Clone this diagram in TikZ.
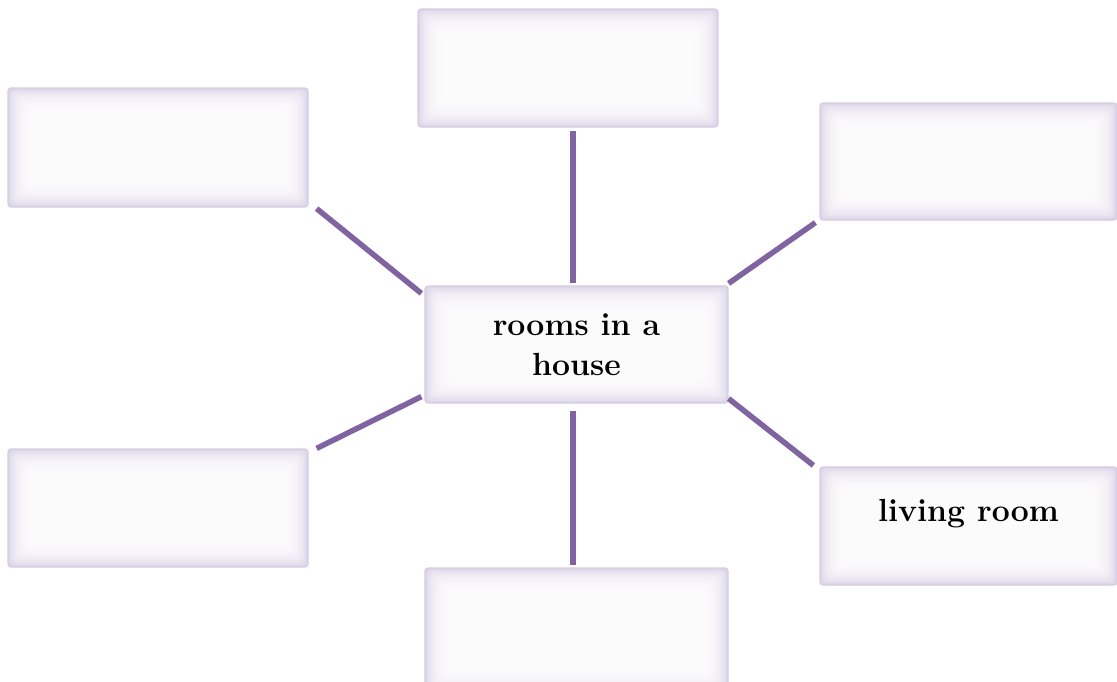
\documentclass[tikz,border=0pt]{standalone}
\usetikzlibrary{calc}
\definecolor{conncol}{RGB}{128,100,162}
\definecolor{boxedge}{RGB}{212,204,226}
\definecolor{boxfill}{RGB}{222,215,233}
\tikzset{
  glowbox/.style={rectangle, rounded corners=3pt, draw=boxedge, line width=1.2pt,
    fill=boxfill, minimum width=#1, inner sep=0pt,
    path picture={
      \foreach \i in {2,4,...,36}{
        \fill[white, opacity=0.2, rounded corners=6pt]
          ([shift={(\i pt,\i pt)}]path picture bounding box.south west) rectangle
          ([shift={(-\i pt,-\i pt)}]path picture bounding box.north east);
      }
    }},
  glowbox/.default=300pt,
  conn/.style={draw=conncol, line width=5.5pt},
  boxtext/.style={font=\fontsize{32}{40}\selectfont\bfseries, align=center}
}
\begin{document}
\begin{tikzpicture}[x=1pt,y=-1pt]
\clip (0,0) rectangle (1117,681);
\fill[white] (0,0) rectangle (1117,681);
\node[glowbox=300pt, minimum height=118pt] (top) at (568,68) {};
\node[glowbox=300pt, minimum height=119pt] (lt) at (158,147.5) {};
\node[glowbox=297pt, minimum height=117pt] (rt) at (968.5,161.5) {};
\node[glowbox=303pt, minimum height=117pt, boxtext] (center) at (576.5,344.5) {rooms in a\\house};
\node[glowbox=300pt, minimum height=118pt] (lb) at (158,508) {};
\node[glowbox=297pt, minimum height=118pt,
  label={[boxtext, yshift=12pt, name=lrtext]center:living room}] (rb) at (968.5,526) {};
\node[glowbox=303pt, minimum height=126pt] (bot) at (576.5,631) {};
\draw[conn] ([shift={(5pt,-3pt)}]top.south) -- ([shift={(-3.5pt,2pt)}]center.north);
\draw[conn] ([shift={(8pt,-1pt)}]lt.south east) -- ([shift={(-3pt,-8pt)}]center.north west);
\draw[conn] ([shift={(-4pt,-2pt)}]rt.south west) -- ([shift={(0pt,2pt)}]center.north east);
\draw[conn] ([shift={(8pt,0pt)}]lb.north east) -- ([shift={(-3pt,7pt)}]center.south west);
\draw[conn] ([shift={(0pt,5pt)}]center.south east) -- ([shift={(-6pt,1pt)}]rb.north west);
\draw[conn] ([shift={(-3.5pt,-7pt)}]center.south) -- ([shift={(-3.5pt,2pt)}]bot.north);
\end{tikzpicture}
\end{document}
